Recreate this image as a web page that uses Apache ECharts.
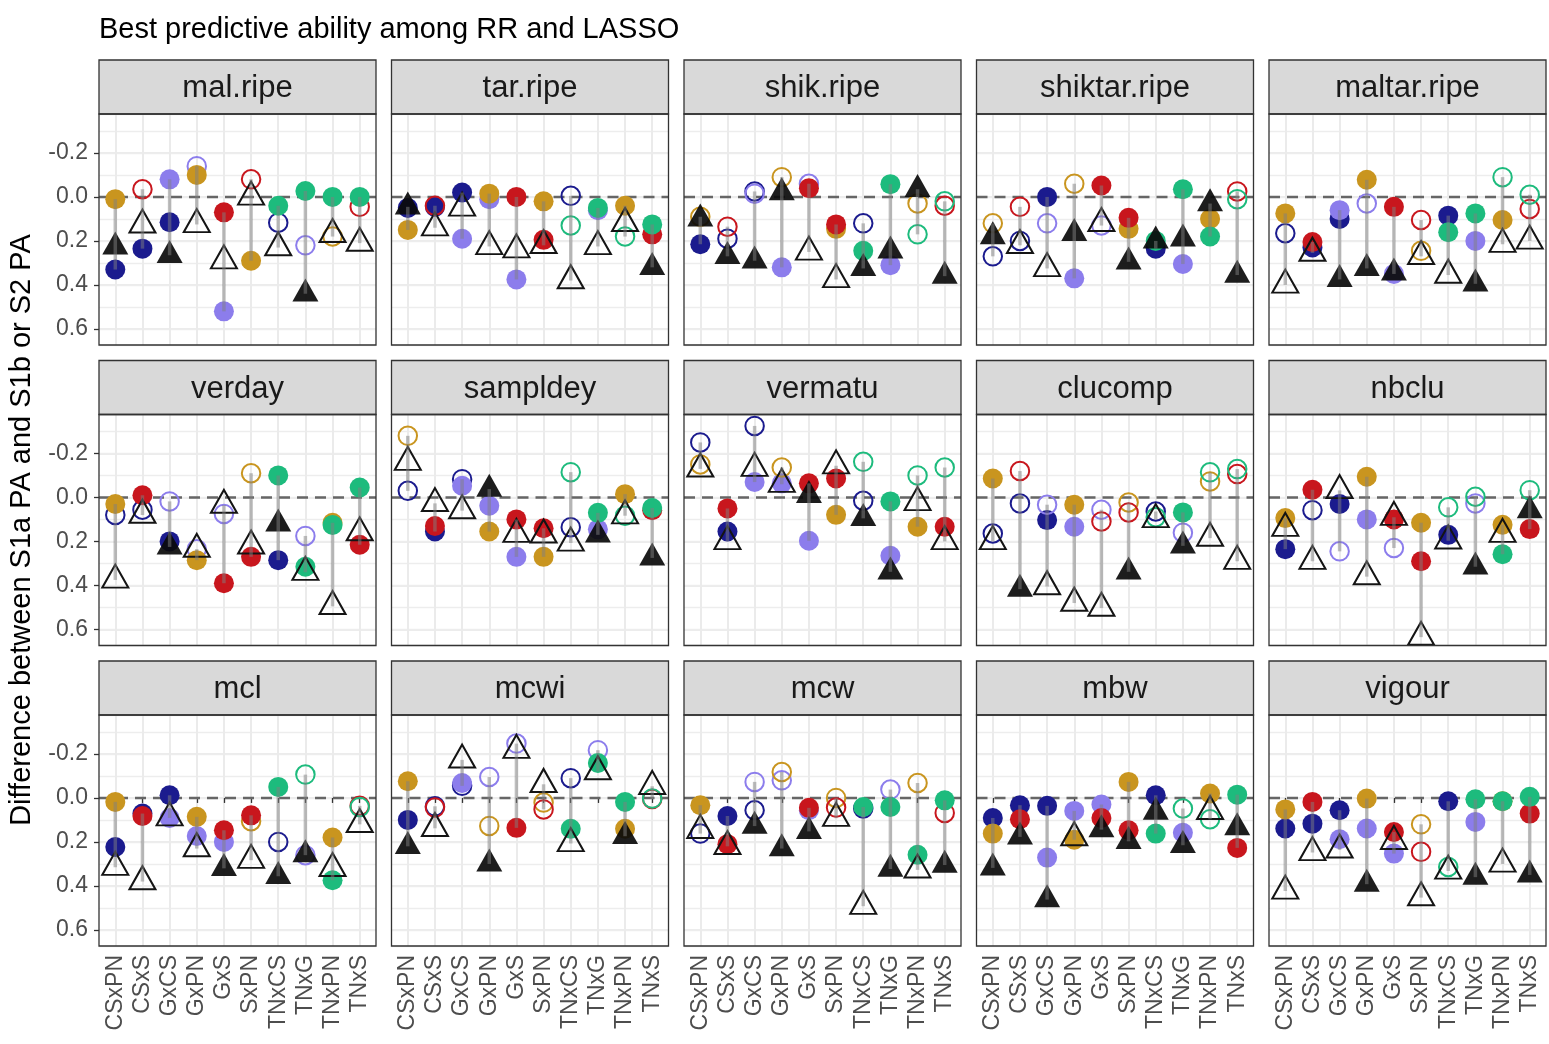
<!DOCTYPE html>
<html>
<head>
<meta charset="utf-8">
<script src="https://cdn.jsdelivr.net/npm/echarts@6/dist/echarts.min.js"></script>
<style>
  html, body { margin: 0; padding: 0; background: #ffffff; }
  #chart { width: 1549px; height: 1044px; }
</style>
</head>
<body>
<div id="chart"></div>
<script>
// Facets (traits) and crosses on the x axis
const traits = ['mal.ripe', 'tar.ripe', 'shik.ripe', 'shiktar.ripe', 'maltar.ripe',
                'verday', 'sampldey', 'vermatu', 'clucomp', 'nbclu',
                'mcl', 'mcwi', 'mcw', 'mbw', 'vigour'];
const crosses = ['CSxPN', 'CSxS', 'GxCS', 'GxPN', 'GxS', 'SxPN', 'TNxCS', 'TNxG', 'TNxPN', 'TNxS'];
const yTickValues = [-0.2, 0, 0.2, 0.4, 0.6];

// PA difference for the first parent of each cross (e.g. CS in CSxPN), one row per trait
const firstParentDiff = [
  [0.33, 0.235, -0.08, -0.14, 0.52, -0.08, 0.04, -0.027, 0.0, 0.0],
  [0.05, 0.045, 0.19, 0.01, 0.375, 0.195, 0.13, 0.05, 0.18, 0.125],
  [0.215, 0.19, -0.015, 0.32, -0.06, 0.125, 0.245, -0.058, 0.17, 0.02],
  [0.27, 0.2, 0.12, 0.37, 0.13, 0.095, 0.2, -0.035, 0.18, 0.01],
  [0.165, 0.23, 0.06, 0.03, 0.35, 0.105, 0.16, 0.075, -0.09, -0.01],
  [0.08, 0.056, 0.018, 0.235, 0.075, 0.27, -0.1, 0.315, 0.125, -0.045],
  [-0.03, 0.155, -0.053, 0.038, 0.27, 0.14, -0.115, 0.07, 0.083, 0.048],
  [-0.25, 0.155, -0.07, -0.064, 0.197, -0.086, -0.162, 0.018, -0.1, -0.136],
  [0.164, 0.027, 0.033, 0.133, 0.056, 0.068, 0.09, 0.068, -0.114, -0.129],
  [0.235, 0.058, 0.245, 0.1, 0.23, 0.29, 0.045, -0.003, 0.258, -0.033],
  [0.223, 0.071, 0.091, 0.173, 0.2, 0.079, -0.05, -0.106, 0.374, 0.041],
  [0.1, 0.038, -0.068, -0.095, -0.247, 0.052, 0.14, -0.159, 0.018, 0.003],
  [0.162, 0.082, -0.073, -0.08, 0.056, 0.044, 0.041, 0.041, 0.258, 0.011],
  [0.091, 0.033, 0.271, 0.059, 0.03, 0.147, 0.162, 0.048, 0.097, -0.015],
  [0.139, 0.117, 0.188, 0.139, 0.253, 0.245, 0.314, 0.006, 0.015, -0.005]
];
// 1 = filled symbol, 0 = open symbol
const firstParentFilled = [
  [1,1,1,0,1,0,1,1,1,1],
  [1,1,1,1,1,1,0,1,0,1],
  [1,0,0,1,0,1,1,1,0,0],
  [0,0,0,1,0,1,1,1,1,0],
  [0,1,1,0,1,0,1,1,0,0],
  [0,0,0,0,0,1,1,1,1,1],
  [0,1,1,1,1,1,0,1,0,1],
  [0,1,1,1,1,1,0,1,0,0],
  [0,0,0,1,0,0,0,1,0,0],
  [1,0,0,1,0,1,0,0,1,0],
  [1,1,1,1,1,1,1,0,1,0],
  [1,0,1,0,0,0,1,1,1,0],
  [0,1,0,0,1,0,1,1,1,1],
  [1,1,1,1,1,1,1,0,0,1],
  [1,1,1,1,1,0,0,1,1,1]
];

// PA difference for the second parent of each cross (e.g. PN in CSxPN)
const secondParentDiff = [
  [0.01, -0.035, 0.115, -0.10, 0.07, 0.29, 0.117, 0.22, 0.18, 0.045],
  [0.15, 0.04, -0.02, -0.015, 0.0, 0.02, -0.005, 0.06, 0.04, 0.17],
  [0.09, 0.135, -0.025, -0.09, -0.04, 0.145, 0.12, 0.31, 0.03, 0.04],
  [0.12, 0.045, 0.0, -0.06, -0.052, 0.145, 0.235, 0.305, 0.1, -0.025],
  [0.075, 0.205, 0.1, -0.078, 0.045, 0.245, 0.085, 0.2, 0.105, 0.055],
  [0.03, -0.01, 0.2, 0.285, 0.39, -0.11, 0.285, 0.175, 0.115, 0.215],
  [-0.28, 0.13, -0.083, 0.155, 0.1, 0.27, 0.135, 0.145, -0.015, 0.058],
  [-0.15, 0.05, -0.325, -0.136, -0.064, 0.079, 0.015, 0.265, 0.133, 0.133],
  [-0.086, -0.12, 0.103, 0.033, 0.109, 0.023, 0.064, 0.16, -0.073, -0.106],
  [0.094, -0.035, 0.03, -0.094, 0.1, 0.115, 0.17, 0.027, 0.124, 0.144],
  [0.018, 0.082, -0.012, 0.086, 0.147, 0.106, 0.2, 0.26, 0.18, 0.036],
  [-0.076, 0.044, -0.055, 0.127, 0.136, 0.021, -0.09, -0.217, 0.14, 0.005],
  [0.033, 0.21, 0.056, -0.118, 0.045, 0.0, 0.048, -0.038, -0.068, 0.068],
  [0.162, 0.097, 0.036, 0.19, 0.091, -0.073, -0.012, 0.158, -0.02, 0.227],
  [0.052, 0.018, 0.056, 0.003, 0.155, 0.12, 0.015, 0.109, 0.015, 0.071]
];
const secondParentFilled = [
  [1,0,1,1,1,1,0,0,0,0],
  [1,0,1,1,1,1,0,1,1,1],
  [0,0,0,0,1,1,0,1,0,0],
  [0,0,1,0,1,1,1,1,1,0],
  [1,1,1,1,1,0,1,1,1,0],
  [1,1,1,1,1,0,1,0,1,1],
  [0,1,0,1,1,1,0,1,1,1],
  [0,1,0,0,1,1,0,1,1,1],
  [1,0,1,1,0,0,0,0,0,0],
  [1,1,1,1,1,1,1,0,1,1],
  [1,1,1,1,1,0,0,0,1,0],
  [1,0,0,0,1,0,0,0,1,0],
  [1,1,0,0,1,0,0,0,0,0],
  [1,1,1,1,1,1,1,1,1,1],
  [1,1,1,1,1,0,1,1,1,1]
];

// PA difference for the cross itself (triangles)
const crossDiff = [
  [0.227, 0.127, 0.265, 0.125, 0.29, 0.0, 0.23, 0.44, 0.17, 0.21],
  [0.045, 0.14, 0.05, 0.225, 0.24, 0.22, 0.38, 0.225, 0.12, 0.32],
  [0.1, 0.27, 0.29, -0.02, 0.25, 0.375, 0.325, 0.245, -0.035, 0.36],
  [0.18, 0.22, 0.325, 0.165, 0.12, 0.295, 0.2, 0.19, 0.03, 0.355],
  [0.4, 0.255, 0.375, 0.325, 0.345, 0.27, 0.355, 0.395, 0.215, 0.2],
  [0.375, 0.08, 0.225, 0.235, 0.035, 0.22, 0.12, 0.34, 0.495, 0.16],
  [-0.16, 0.027, 0.06, -0.038, 0.167, 0.17, 0.207, 0.17, 0.083, 0.275],
  [-0.13, 0.2, -0.133, -0.06, -0.01, -0.144, 0.095, 0.338, 0.023, 0.2],
  [0.2, 0.417, 0.405, 0.48, 0.503, 0.338, 0.1, 0.22, 0.185, 0.29],
  [0.14, 0.29, -0.032, 0.36, 0.09, 0.635, 0.197, 0.315, 0.167, 0.06],
  [0.315, 0.38, 0.09, 0.23, 0.32, 0.283, 0.356, 0.258, 0.32, 0.12],
  [0.22, 0.138, -0.173, 0.3, -0.217, -0.062, 0.207, -0.12, 0.174, -0.053],
  [0.147, 0.22, 0.128, 0.23, 0.152, 0.092, 0.492, 0.323, 0.327, 0.305],
  [0.318, 0.177, 0.462, 0.18, 0.144, 0.197, 0.064, 0.215, 0.061, 0.135],
  [0.423, 0.248, 0.236, 0.392, 0.197, 0.453, 0.332, 0.36, 0.3, 0.35]
];
const crossFilled = [
  [1,0,1,0,0,0,0,1,0,0],
  [1,0,0,0,0,0,0,0,0,1],
  [1,1,1,1,0,0,1,1,1,1],
  [1,0,0,1,0,1,1,1,1,1],
  [0,0,1,1,1,0,0,1,0,0],
  [0,0,1,0,0,0,1,0,0,0],
  [0,0,0,1,0,0,0,1,0,1],
  [0,0,0,0,1,0,1,1,0,0],
  [0,1,0,0,0,1,0,1,0,0],
  [0,0,0,0,0,0,0,1,0,1],
  [0,0,0,0,1,0,1,1,0,0],
  [1,0,0,1,0,0,0,0,1,0],
  [0,0,1,1,1,0,0,1,0,1],
  [1,1,1,0,1,1,1,1,0,1],
  [0,0,0,1,0,0,0,1,0,1]
];

// Parent populations, in drawing order, and their colours
const parentOrder = ['CS', 'G', 'PN', 'S', 'TN'];
const parentColor = { CS: '#1b1b8e', G: '#8c7dec', PN: '#c9951f', S: '#c8161d', TN: '#1dbb7d' };

const FONT = '"Liberation Sans", Arial, Helvetica, sans-serif';
const PANEL_W = 277, PANEL_H = 231, STRIP_H = 54;
const Y_MIN = -0.377, Y_MAX = 0.673;
const TRI_W = 26, TRI_H = 23;

const grids = [], xAxes = [], yAxes = [], series = [], graphics = [];

traits.forEach((trait, g) => {
  const row = Math.floor(g / 5), col = g % 5;
  const left = 99 + 292.5 * col;
  const top = 114 + 300.5 * row;

  grids.push({ left, top, width: PANEL_W, height: PANEL_H, show: true,
               backgroundColor: '#ffffff', borderWidth: 0 });

  xAxes.push({
    gridIndex: g, type: 'value', min: 0.4, max: 10.6, splitNumber: 10,
    axisLine: { show: false },
    axisTick: { show: row === 2, customValues: crosses.map((c, i) => i + 1), length: 5,
                lineStyle: { color: '#333333', width: 1.3 } },
    axisLabel: { show: row === 2, customValues: crosses.map((c, i) => i + 1),
                 formatter: v => crosses[Math.round(v) - 1], rotate: 90, margin: 9,
                 fontSize: 23, color: '#4d4d4d', fontFamily: FONT },
    splitLine: { show: true, lineStyle: { color: '#ebebeb', width: 2 } }
  });

  // main y axis: labels, ticks and major grid lines
  yAxes.push({
    gridIndex: g, type: 'value', inverse: true, min: Y_MIN, max: Y_MAX, position: 'left',
    axisLine: { show: false },
    axisTick: { show: col === 0, customValues: yTickValues, length: 5,
                lineStyle: { color: '#333333', width: 1.3 } },
    axisLabel: { show: col === 0, customValues: yTickValues, margin: 11,
                 formatter: v => v.toFixed(1), fontSize: 23, color: '#4d4d4d', fontFamily: FONT },
    splitLine: { show: true, lineStyle: { color: '#ebebeb', width: 2 } }
  });
  // companion y axis for the 0.1-step minor grid lines
  yAxes.push({
    gridIndex: g, type: 'value', inverse: true, min: Y_MIN, max: Y_MAX, position: 'left',
    splitNumber: 10,
    axisLine: { show: false }, axisTick: { show: false }, axisLabel: { show: false },
    splitLine: { show: true, lineStyle: { color: '#ededed', width: 1.3 } }
  });

  const yi = 2 * g;

  // dashed reference line at zero difference
  series.push({
    type: 'custom', xAxisIndex: g, yAxisIndex: yi, z: 1, silent: true,
    data: [[0]],
    encode: { y: 0 },
    renderItem: (params, api) => {
      const cs = params.coordSys;
      const y = api.coord([1, api.value(0)])[1];
      return { type: 'line', shape: { x1: cs.x, y1: y, x2: cs.x + cs.width, y2: y },
               style: { stroke: '#666666', lineWidth: 2.5, lineDash: [11, 7] } };
    }
  });

  // parent circles, drawn in parent order
  const circles = [];
  parentOrder.forEach(p => {
    crosses.forEach((c, i) => {
      const [pa, pb] = c.split('x');
      let v = null, filled = 0;
      if (pa === p) { v = firstParentDiff[g][i]; filled = firstParentFilled[g][i]; }
      else if (pb === p) { v = secondParentDiff[g][i]; filled = secondParentFilled[g][i]; }
      if (v === null) return;
      const colr = parentColor[p];
      circles.push({
        value: [i + 1, v],
        symbolSize: filled ? 20 : 18.5,
        itemStyle: filled
          ? { color: colr, borderWidth: 0, opacity: 1 }
          : { color: 'rgba(0,0,0,0)', borderColor: colr, borderWidth: 2, opacity: 1 }
      });
    });
  });
  series.push({
    type: 'scatter', xAxisIndex: g, yAxisIndex: yi, z: 3, symbol: 'circle',
    silent: true, emphasis: { disabled: true }, itemStyle: { opacity: 1 }, data: circles
  });

  // cross triangles (point at the triangle's centroid)
  series.push({
    type: 'scatter', xAxisIndex: g, yAxisIndex: yi, z: 4, symbol: 'triangle',
    symbolSize: [TRI_W, TRI_H], symbolOffset: [0, -TRI_H / 6],
    silent: true, emphasis: { disabled: true }, itemStyle: { opacity: 1 },
    data: crosses.map((c, i) => ({
      value: [i + 1, crossDiff[g][i]],
      itemStyle: crossFilled[g][i]
        ? { color: 'rgba(10,10,10,0.92)', borderWidth: 0, opacity: 1 }
        : { color: 'rgba(0,0,0,0)', borderColor: '#141414', borderWidth: 2, opacity: 1 }
    }))
  });

  // grey range segments spanning the three values of each cross
  series.push({
    type: 'custom', xAxisIndex: g, yAxisIndex: yi, z: 5, silent: true,
    data: crosses.map((c, i) => {
      const vals = [firstParentDiff[g][i], secondParentDiff[g][i], crossDiff[g][i]];
      return [i + 1, Math.min(...vals), Math.max(...vals)];
    }),
    encode: { x: 0, y: [1, 2] },
    renderItem: (params, api) => {
      const p1 = api.coord([api.value(0), api.value(1)]);
      const p2 = api.coord([api.value(0), api.value(2)]);
      return { type: 'line', shape: { x1: p1[0], y1: p1[1], x2: p2[0], y2: p2[1] },
               style: { stroke: 'rgba(128,128,128,0.5)', lineWidth: 3.5 } };
    }
  });

  // facet strip
  graphics.push({
    type: 'rect', z: 50, silent: true,
    shape: { x: left, y: top - STRIP_H, width: PANEL_W, height: STRIP_H },
    style: { fill: '#d9d9d9', stroke: '#333333', lineWidth: 1.3 }
  });
  graphics.push({
    type: 'text', z: 51, silent: true, x: left + PANEL_W / 2, y: top - STRIP_H / 2 + 1.5,
    style: { text: trait, fontSize: 31, fontFamily: FONT, fill: '#1a1a1a',
             align: 'center', verticalAlign: 'middle' }
  });
  // panel border
  graphics.push({
    type: 'rect', z: 60, silent: true,
    shape: { x: left, y: top, width: PANEL_W, height: PANEL_H },
    style: { fill: 'none', stroke: '#333333', lineWidth: 1.3 }
  });
});

// subtitle and y axis title
graphics.push({
  type: 'text', z: 50, silent: true, x: 99, y: 30,
  style: { text: 'Best predictive ability among RR and LASSO', fontSize: 29, fontFamily: FONT,
           fill: '#000000', align: 'left', verticalAlign: 'middle' }
});
graphics.push({
  type: 'text', z: 50, silent: true, x: 22, y: 530, rotation: Math.PI / 2,
  style: { text: 'Difference between S1a PA and S1b or S2 PA', fontSize: 29, fontFamily: FONT,
           fill: '#000000', align: 'center', verticalAlign: 'middle' }
});

const chart = echarts.init(document.getElementById('chart'), null, { renderer: 'canvas' });
chart.setOption({
  animation: false,
  backgroundColor: '#ffffff',
  textStyle: { fontFamily: FONT },
  grid: grids,
  xAxis: xAxes,
  yAxis: yAxes,
  series: series,
  graphic: { elements: graphics }
});
</script>
</body>
</html>
